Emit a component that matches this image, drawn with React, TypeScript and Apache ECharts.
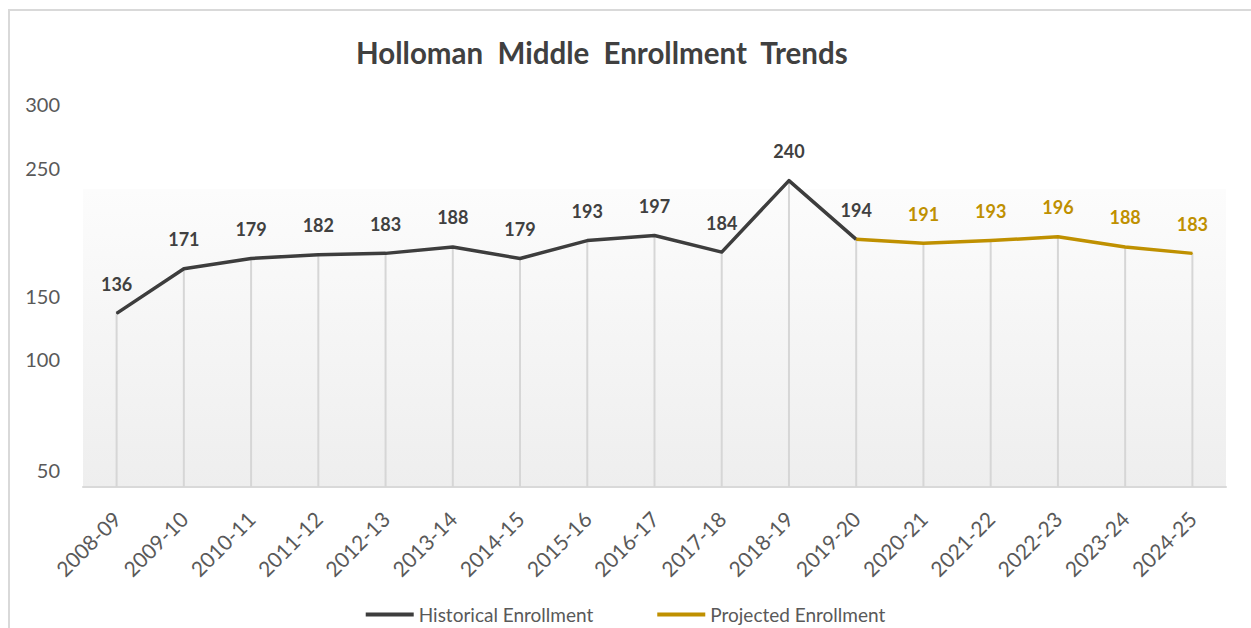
import React, { useEffect, useRef } from "react";
import * as echarts from "echarts";

// School years on the category axis
const years = [
  "2008-09", "2009-10", "2010-11", "2011-12", "2012-13", "2013-14",
  "2014-15", "2015-16", "2016-17", "2017-18", "2018-19", "2019-20",
  "2020-21", "2021-22", "2022-23", "2023-24", "2024-25",
];

// Recorded enrollment (2008-09 through 2019-20)
const historical = [136, 171, 179, 182, 183, 188, 179, 193, 197, 184, 240, 194];

// Projected enrollment (starts from the last recorded year, 2019-20)
const projected = [194, 191, 193, 196, 188, 183];

// Value-axis tick labels that are printed
const yTickLabels = [50, 100, 150, 250, 300];

const FONT = "Lato, 'Open Sans', sans-serif";
const DARK = "#3d3d3d";
const GOLD = "#bf9000";
const GREY_TEXT = "#595959";
const RULE = "#d9d9d9";

export default function App() {
  const ref = useRef<HTMLDivElement>(null);

  useEffect(() => {
    if (!ref.current) return;
    const chart = echarts.init(ref.current, undefined, { renderer: "svg" });

    const projStart = historical.length - 1;
    const histData = years.map((_, i) => (i < historical.length ? historical[i] : "-"));
    const projData = years.map((_, i) => {
      const k = i - projStart;
      if (k < 0) return "-";
      // the joining point already carries the historical label
      return k === 0 ? { value: projected[k], label: { show: false } } : projected[k];
    });
    // drop lines from every point down to the category axis
    const dropData = years.map((_, i) =>
      i < historical.length ? historical[i] : projected[i - projStart]
    );

    chart.setOption({
      animation: false,
      title: {
        text: "Holloman  Middle  Enrollment  Trends",
        left: 351,
        top: 32,
        textStyle: { fontFamily: FONT, fontSize: 29.5, fontWeight: "bold", color: "#404040" },
      },
      graphic: [
        {
          type: "line",
          shape: { x1: 8, y1: 10, x2: 1251, y2: 10 },
          style: { stroke: RULE, lineWidth: 2 },
          silent: true,
        },
        {
          type: "line",
          shape: { x1: 9, y1: 9, x2: 9, y2: 628 },
          style: { stroke: RULE, lineWidth: 2 },
          silent: true,
        },
      ],
      legend: {
        data: [
          { name: "Historical Enrollment", icon: "rect" },
          { name: "Projected Enrollment", icon: "rect" },
        ],
        left: "center",
        top: 600,
        itemWidth: 48,
        itemHeight: 4,
        itemGap: 64,
        textStyle: { fontFamily: FONT, fontSize: 19, color: GREY_TEXT },
      },
      grid: {
        left: 83,
        right: 25,
        top: 104,
        bottom: 141,
        show: true,
        borderWidth: 0,
        backgroundColor: {
          type: "linear",
          x: 0, y: 0, x2: 0, y2: 1,
          colorStops: [
            { offset: 0, color: "#ffffff" },
            { offset: 0.221, color: "#ffffff" },
            { offset: 0.223, color: "#fcfcfc" },
            { offset: 1, color: "#eeeeee" },
          ],
        },
      },
      xAxis: {
        type: "category",
        data: years,
        boundaryGap: true,
        axisLine: { show: true, lineStyle: { color: RULE, width: 2 } },
        axisTick: { show: false },
        axisLabel: {
          rotate: 45,
          margin: 28,
          interval: 0,
          fontFamily: FONT,
          fontSize: 21,
          color: GREY_TEXT,
        },
        splitLine: { show: false },
      },
      yAxis: {
        type: "value",
        min: 0,
        max: 300,
        interval: 50,
        axisLine: { show: false },
        axisTick: { show: false },
        splitLine: { show: false },
        axisLabel: {
          margin: 23,
          fontFamily: FONT,
          fontSize: 20,
          color: GREY_TEXT,
          formatter: (v: number) => {
            if (!yTickLabels.includes(v)) return "";
            return v === yTickLabels[0] ? `{low|${v}}` : String(v);
          },
          rich: {
            low: {
              fontFamily: FONT,
              fontSize: 20,
              color: GREY_TEXT,
              padding: [94, 0, 0, 0],
            },
          },
        },
      },
      series: [
        {
          name: "drop",
          type: "bar",
          data: dropData,
          barWidth: 2,
          itemStyle: { color: "#d6d6d6" },
          silent: true,
          z: 1,
        },
        {
          name: "Historical Enrollment",
          type: "line",
          data: histData,
          symbol: "circle",
          symbolSize: 1,
          lineStyle: { color: DARK, width: 3.5, join: "round" },
          itemStyle: { color: DARK },
          label: {
            show: true,
            position: "top",
            distance: 20,
            fontFamily: FONT,
            fontSize: 18,
            fontWeight: "bold",
            color: "#404040",
          },
          z: 3,
        },
        {
          name: "Projected Enrollment",
          type: "line",
          data: projData,
          symbol: "circle",
          symbolSize: 1,
          lineStyle: { color: GOLD, width: 3.5, join: "round" },
          itemStyle: { color: GOLD },
          label: {
            show: true,
            position: "top",
            distance: 20,
            fontFamily: FONT,
            fontSize: 18,
            fontWeight: "bold",
            color: GOLD,
          },
          z: 3,
        },
      ],
    });

    return () => chart.dispose();
  }, []);

  return (
    <div
      ref={ref}
      style={{ position: "fixed", left: 0, top: 0, width: 1251, height: 628, background: "#fff" }}
    />
  );
}
